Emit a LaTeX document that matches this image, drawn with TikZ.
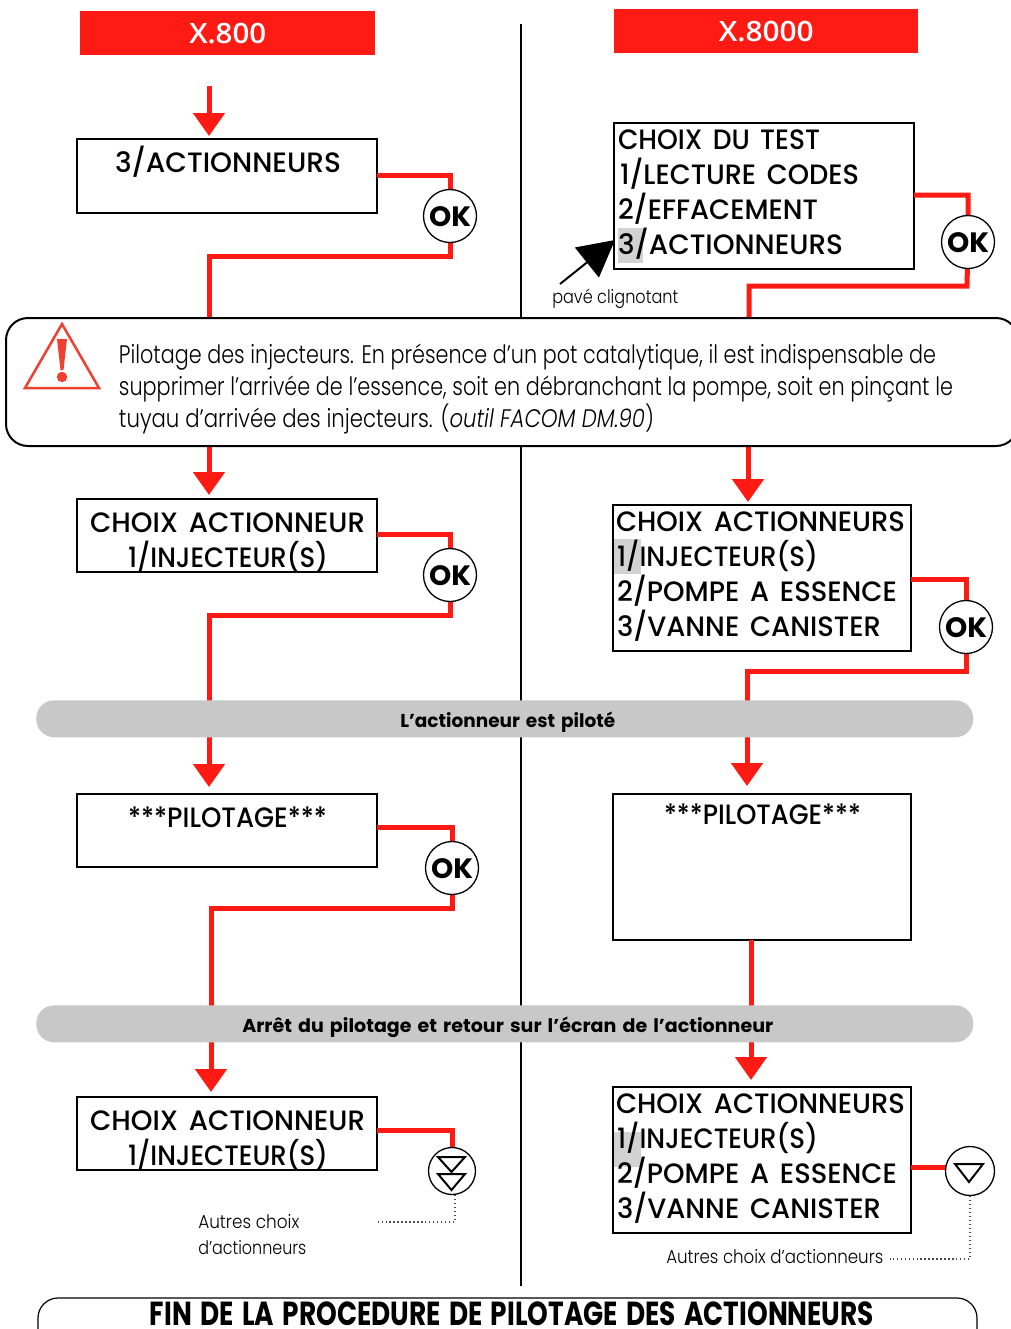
\documentclass[tikz,border=0pt]{standalone}
\usepackage{fontspec}
\usepackage{graphicx}
\usetikzlibrary{arrows.meta}
\setmainfont{Poppins}
\newfontfamily\titlefont{Open Sans}[UprightFont=* Semibold]
\newfontfamily\lcdfont{Poppins}[UprightFont=* Medium,WordSpace=1.5]
\newfontfamily\notefont{Poppins}[UprightFont=* Light,ItalicFont=* Light Italic,WordSpace=1.5]
\newfontfamily\notetight{Poppins}[UprightFont=* Light,ItalicFont=* Light Italic]
\newfontfamily\barfont{Poppins}[UprightFont=* Bold,WordSpace=1.5]
\newlength\px \setlength\px{0.75pt}
\definecolor{alertred}{HTML}{FF1A14}
\definecolor{warnred}{HTML}{F04030}
\definecolor{bargrey}{HTML}{C8C8C8}
\definecolor{cursorgrey}{HTML}{D2D2D2}
% one text line: left kern, width, text
\newcommand\fitw[2]{\resizebox{#1\px}{\height}{#2}}
\newcommand\lcdl[3]{\hbox to \hsize{\kern#1\px\smash{\fitw{#2}{#3}}\hss}}
% body: width, height, first baseline, line step, lines
\newcommand\lcdbody[5]{\vbox to #2\px{\hsize=#1\px\baselineskip=#4\px\lineskiplimit=-1000pt\kern#3\px #5\vss}}
\newcommand\oktext{\raisebox{-10\px}[0pt][0pt]{\fitw{42}{OK}}}
\newcommand\bartext[2]{\hspace*{6\px}\raisebox{-8.5\px}[0pt][0pt]{\fitw{#1}{#2}}}
\tikzset{
  flow/.style={draw=alertred,line width=5\px},
  flowarrow/.style={flow,-{Triangle[length=17.25pt,width=23.25pt]}},
  titlebox/.style={fill=alertred,text=white,inner sep=0pt,anchor=north west,font=\titlefont\fontsize{21}{24}\selectfont},
  lcdbox/.style={draw=black,line width=2\px,inner sep=0pt,outer sep=0pt,anchor=north west,font=\lcdfont\fontsize{21}{24}\selectfont},
  okbtn/.style={circle,draw=black,line width=1.3\px,fill=white,inner sep=0pt,minimum size=53\px,font=\barfont\fontsize{21}{24}\selectfont},
  navbtn/.style={circle,draw=black,line width=1.3\px,fill=white,inner sep=0pt,minimum size=47\px},
  navtri/.style={draw=black,line width=2\px,line join=miter},
  dots/.style={draw=black!70,line width=1.3\px,dotted},
  greybar/.style={fill=bargrey,rounded corners=18\px,inner sep=0pt,anchor=north west,minimum width=937\px,minimum height=37\px,font=\barfont\fontsize{14}{16}\selectfont},
  cursor/.style={fill=cursorgrey,inner sep=0pt,anchor=north west},
  note/.style={inner sep=0pt,font=\notefont\fontsize{14}{16}\selectfont,anchor=base west},
}
\begin{document}
\begin{tikzpicture}[x=0.75pt,y=-0.75pt]
\useasboundingbox (0,0) rectangle (1011,1329);
\clip (0,0) rectangle (1011,1329);
% centre rule
\coordinate (ruleTop) at (520.5,24);
\coordinate (ruleBot) at (520.5,1286);
\draw[black,line width=2\px] (ruleTop) -- (ruleBot);

% cursors
\node[cursor,minimum width=25\px,minimum height=35\px] (curA) at (618,228) {};
\node[cursor,minimum width=27\px,minimum height=35\px] (curB) at (614,539) {};
\node[cursor,minimum width=27\px,minimum height=35\px] (curC) at (614,1132) {};

% titles
\node[titlebox,minimum width=295\px,minimum height=44\px] (t800) at (80,11) {\fitw{77}{X.800}};
\node[titlebox,minimum width=304\px,minimum height=44\px] (t8000) at (614,9) {\fitw{95}{X.8000}};

% left boxes
\node[lcdbox] (la) at (77,139) {\lcdbody{300}{74}{33}{35}{\lcdl{38}{226}{3/ACTIONNEURS}}};
\node[lcdbox] (lb) at (77,499) {\lcdbody{300}{73}{33}{35}{\lcdl{13}{275}{CHOIX ACTIONNEUR}\lcdl{51}{200}{1/INJECTEUR(S)}}};
\node[lcdbox] (lc) at (77,794) {\lcdbody{300}{73}{33}{35}{\lcdl{51}{199}{***PILOTAGE***}}};
\node[lcdbox] (ld) at (77,1097) {\lcdbody{300}{73}{33}{35}{\lcdl{13}{275}{CHOIX ACTIONNEUR}\lcdl{51}{200}{1/INJECTEUR(S)}}};

% right boxes
\node[lcdbox] (ra) at (614,123) {\lcdbody{300}{146}{26}{35.3}{\lcdl{4}{202}{CHOIX DU TEST}\lcdl{6}{239}{1/LECTURE CODES}\lcdl{4}{200}{2/EFFACEMENT}\lcdl{4}{225}{3/ACTIONNEURS}}};
\node[lcdbox] (rb) at (613,505) {\lcdbody{298}{146}{26}{35.3}{\lcdl{3}{289}{CHOIX ACTIONNEURS}\lcdl{4}{201}{1/INJECTEUR(S)}\lcdl{4}{280}{2/POMPE A ESSENCE}\lcdl{4}{264}{3/VANNE CANISTER}}};
\node[lcdbox] (rc) at (613,794) {\lcdbody{298}{146}{30}{35}{\lcdl{51}{197}{***PILOTAGE***}}};
\node[lcdbox] (rd) at (613,1087) {\lcdbody{298}{146}{26}{35.3}{\lcdl{3}{289}{CHOIX ACTIONNEURS}\lcdl{4}{201}{1/INJECTEUR(S)}\lcdl{4}{280}{2/POMPE A ESSENCE}\lcdl{4}{264}{3/VANNE CANISTER}}};

% buttons (positions)
\coordinate (okaC) at (450,216);
\coordinate (okbC) at (450,575);
\coordinate (okcC) at (452,868);
\coordinate (okrC) at (968,242);
\coordinate (oksC) at (966,627);

% connectors, left column
\coordinate (a0) at (209,86);
\coordinate (a1) at (209,136);
\draw[flowarrow] (a0) -- (a1);
\coordinate (la1) at (377,175);
\coordinate (la2) at (209,256);
\coordinate (la3) at (209,320);
\draw[flow] (la1) -| (okaC) -- (450,256) -- (la2) -- (la3);
\coordinate (b0) at (209,444);
\coordinate (b1) at (209,495);
\draw[flowarrow] (b0) -- (b1);
\coordinate (lb1) at (377,534);
\coordinate (lb2) at (209,615);
\coordinate (lb3) at (209,702);
\draw[flow] (lb1) -| (okbC) -- (450,615) -- (lb2) -- (lb3);
\coordinate (c0) at (209,735);
\coordinate (c1) at (209,787);
\draw[flowarrow] (c0) -- (c1);
\coordinate (lc1) at (377,827);
\coordinate (lc2) at (211,908);
\coordinate (lc3) at (211,1007);
\draw[flow] (lc1) -| (okcC) -- (452,908) -- (lc2) -- (lc3);
\coordinate (d0) at (211,1040);
\coordinate (d1) at (211,1092);
\draw[flowarrow] (d0) -- (d1);
\coordinate (ld1) at (377,1130);
\coordinate (ldb) at (452,1171);
\draw[flow] (ld1) -| (ldb);

% connectors, right column
\coordinate (ra1) at (914,195);
\coordinate (ra2) at (749,286);
\coordinate (ra3) at (749,320);
\draw[flow] (ra1) -| (okrC) -- (967,286) -- (ra2) -- (ra3);
\coordinate (e0) at (748,444);
\coordinate (e1) at (748,502);
\draw[flowarrow] (e0) -- (e1);
\coordinate (rb1) at (911,579);
\coordinate (rb2) at (747,671);
\coordinate (rb3) at (747,702);
\draw[flow] (rb1) -| (oksC) -- (966,671) -- (rb2) -- (rb3);
\coordinate (f0) at (747,735);
\coordinate (f1) at (747,786);
\draw[flowarrow] (f0) -- (f1);
\coordinate (rc1) at (751,940);
\coordinate (rc2) at (751,1007);
\draw[flow] (rc1) -- (rc2);
\coordinate (g0) at (751,1040);
\coordinate (g1) at (751,1080);
\draw[flowarrow] (g0) -- (g1);
\coordinate (rd1) at (911,1167);
\coordinate (rd2) at (950,1167);
\draw[flow] (rd1) -- (rd2);

% buttons
\node[okbtn] (oka) at (okaC) {\oktext};
\node[okbtn] (okb) at (okbC) {\oktext};
\node[okbtn] (okc) at (okcC) {\oktext};
\node[okbtn] (okr) at (okrC) {\oktext};
\node[okbtn] (oks) at (oksC) {\oktext};
\node[navbtn] (navl) at (ldb) {};
\node[navbtn,minimum size=49\px] (navr) at (970,1171) {};
\draw[navtri] (438,1157) -- (465,1157) -- (451.5,1172) -- cycle;
\draw[navtri] (438,1174) -- (465,1174) -- (451.5,1190) -- cycle;
\draw[navtri] (955,1164) -- (983,1164) -- (969,1182) -- cycle;

% dotted leaders
\coordinate (dl1) at (455,1222);
\coordinate (dl2) at (375,1222);
\coordinate (dl0) at (455,1195);
\draw[dots] (dl0) -- (dl1) -- (dl2);
\coordinate (dr1) at (970,1259);
\coordinate (dr2) at (890,1259);
\draw[dots] (navr.south) -- (dr1) -- (dr2);

% callout
\node[lcdbox,fill=white,rounded corners=22\px,font=\notefont\fontsize{19}{22}\selectfont] (warn) at (6,318) {\lcdbody{1012}{128}{45}{32}{\lcdl{113}{817}{Pilotage des injecteurs. En présence d’un pot catalytique, il est indispensable de}\lcdl{113}{834}{supprimer l’arrivée de l’essence, soit en débranchant la pompe, soit en pinçant le}\lcdl{113}{535}{\notetight tuyau d’arrivée des injecteurs. (\textit{outil FACOM DM.90})}}};
\draw[warnred,line width=2.5\px,line join=miter] (62,324) -- (99,388) -- (25,388) -- cycle;
\fill[warnred] (57,339) -- (67,339) -- (63.5,370) -- (60.5,370) -- cycle;
\fill[warnred] (62,377) circle (5.2);

% grey bars
\node[greybar] (bar1) at (36,700) {\bartext{215}{L’actionneur est piloté}};
\node[greybar] (bar2) at (36,1005) {\bartext{531}{Arrêt du pilotage et retour sur l’écran de l’actionneur}};

% notes
\coordinate (pc) at (552,303);
\node[note] (pavelbl) at (pc) {\fitw{126}{pavé clignotant}};
\coordinate (pt) at (560,284);
\coordinate (pa) at (615,240);
\draw[line width=2\px,-{Triangle[length=27pt,width=28.5pt]}] (pt) -- (pa);
\node[note] (autl1) at (198,1228) {\fitw{101}{Autres choix}};
\node[note] (autl2) at (198,1254) {\fitw{108}{d’actionneurs}};
\node[note] (autr) at (666,1263) {\fitw{217}{Autres choix d’actionneurs}};

% end banner
\node[lcdbox,line width=1.2\px,rounded corners=20\px,font=\barfont\fontsize{25}{28}\selectfont] (fin) at (38,1298) {\lcdbody{939}{60}{27}{30}{\lcdl{112}{724}{FIN DE LA PROCEDURE DE PILOTAGE DES ACTIONNEURS}}};
\end{tikzpicture}
\end{document}
